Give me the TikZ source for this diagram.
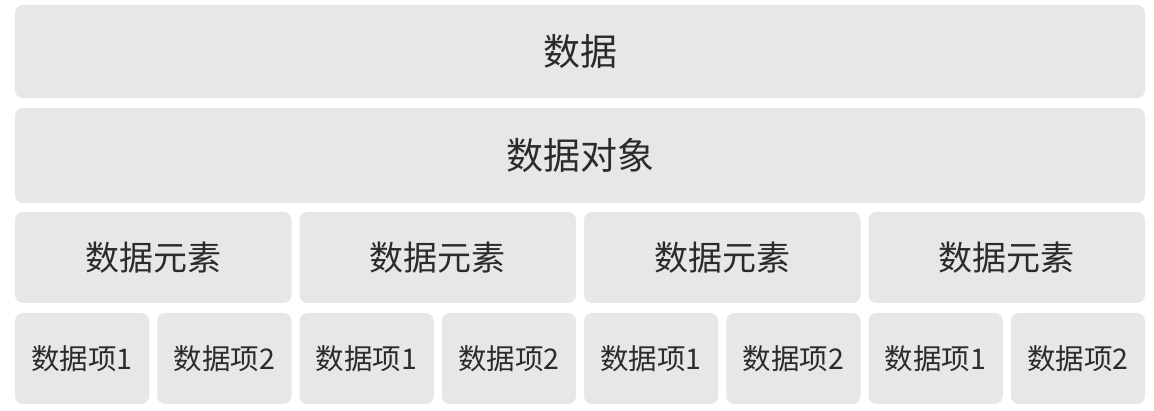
\documentclass[tikz,border=0pt]{standalone}
\usepackage{fontspec}
\setmainfont{Noto Sans CJK SC}
\definecolor{boxfill}{HTML}{E7E7E7}
\definecolor{txt}{HTML}{2B2B2B}
\begin{document}
\begin{tikzpicture}[x=1pt,y=-1pt,
  blk/.style={fill=boxfill,draw=none,rounded corners=8pt,inner sep=0pt,text=txt,anchor=center},
  big/.style={blk,font=\fontsize{37}{42}\selectfont},
  mid/.style={blk,font=\fontsize{34}{40}\selectfont},
  small/.style={blk,font=\fontsize{28.5}{32}\selectfont}]
\useasboundingbox (0,0) rectangle (1154,411);
\node[big,minimum width=1130pt,minimum height=93pt] (data) at (580,51.5) {数据};
\node[big,minimum width=1130pt,minimum height=95pt] (obj) at (580,155.5) {数据对象};
\foreach \i in {0,1,2,3}{
  \node[mid,minimum width=276.5pt,minimum height=91pt] (el\i) at ({153.25+284.5*\i},257.5) {数据元素};
  \node[small,minimum width=134.25pt,minimum height=91pt] (it\i a) at ({82.125+284.5*\i},358.5) {数据项1};
  \node[small,minimum width=134.25pt,minimum height=91pt] (it\i b) at ({224.375+284.5*\i},358.5) {数据项2};
}
\end{tikzpicture}
\end{document}
